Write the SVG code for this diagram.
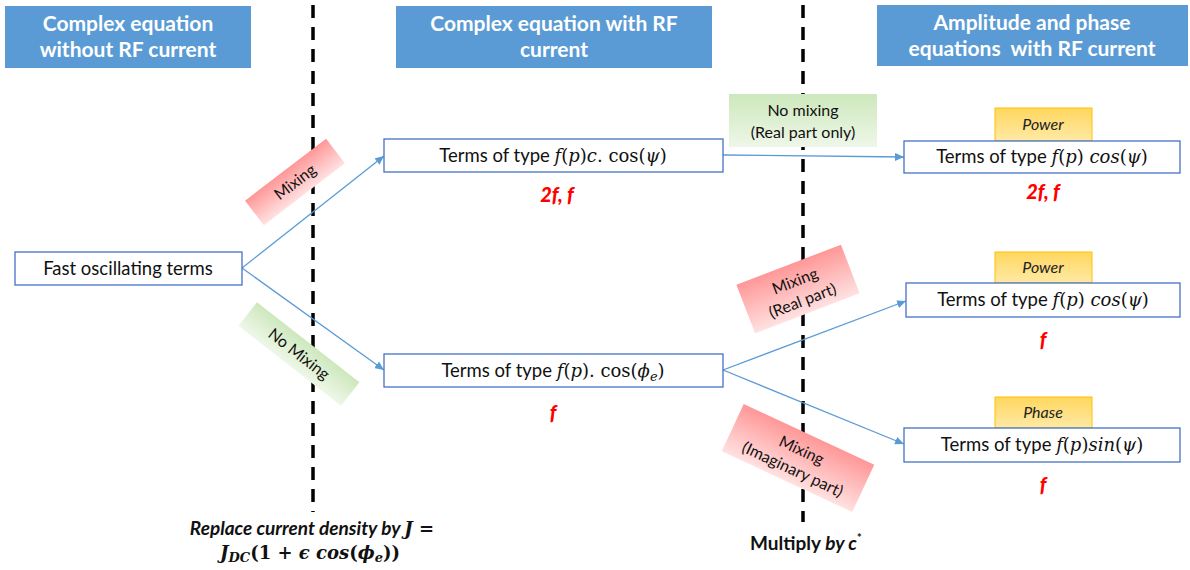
<svg xmlns="http://www.w3.org/2000/svg" width="1190" height="570" viewBox="0 0 1190 570">
<style>
.hdr{fill:#5B9BD5}
.ht{fill:#fff;font-family:Lato,"Liberation Sans",sans-serif;font-weight:bold;font-size:21px;text-anchor:middle}
.box{fill:#fff;stroke:#4472C4;stroke-width:1.3}
.t{font-family:Lato,"Liberation Sans",sans-serif;font-size:18.5px;fill:#111}
.m{font-family:"DejaVu Serif","Liberation Serif",serif;font-size:18px}
.mi{font-style:italic}
.red{font-family:Lato,"Liberation Sans",sans-serif;font-weight:900;font-style:italic;font-size:20px;fill:#FF0000;text-anchor:middle}
.lbl{font-family:Lato,"Liberation Sans",sans-serif;font-size:16px;fill:#111;text-anchor:middle}
.tag{stroke:#FFC000;stroke-width:1;fill:url(#gO)}
.tagt{font-family:Lato,"Liberation Sans",sans-serif;font-style:italic;font-size:16px;fill:#222;text-anchor:middle}
.dash{stroke:#000;stroke-width:3.5;stroke-dasharray:13 9;fill:none}
.conn{stroke:#5B9BD5;stroke-width:1.3;fill:none;marker-end:url(#ah)}
.bt{font-family:Lato,"Liberation Sans",sans-serif;font-weight:bold;font-size:19px;fill:#111;text-anchor:middle}
.bm{font-family:"DejaVu Serif","Liberation Serif",serif;font-weight:bold;font-size:18px;fill:#111;text-anchor:middle}
</style>
<defs>
<marker id="ah" markerUnits="userSpaceOnUse" markerWidth="10" markerHeight="8" refX="9" refY="4" orient="auto">
<path d="M0,0 L9,4 L0,8 z" fill="#5B9BD5"/>
</marker>
<linearGradient id="gR" x1="0" y1="0" x2="0" y2="1">
<stop offset="0" stop-color="#FF9797"/>
<stop offset="1" stop-color="#FFE1E1"/>
</linearGradient>
<linearGradient id="gG" x1="0" y1="0" x2="0" y2="1">
<stop offset="0" stop-color="#CDE8BC"/>
<stop offset="1" stop-color="#EEF7E8"/>
</linearGradient>
<linearGradient id="gO" x1="0" y1="0" x2="0" y2="1">
<stop offset="0" stop-color="#FFD75E"/>
<stop offset="1" stop-color="#FFE9A6"/>
</linearGradient>
</defs>

<g id="dividers">
<line class="dash" x1="313" y1="5" x2="313" y2="512"/>
<line class="dash" x1="803" y1="5" x2="803" y2="522"/>
</g>

<g id="hdr1">
<rect class="hdr" x="5" y="6" width="246" height="62"/>
<text class="ht" x="128" y="31">Complex equation</text>
<text class="ht" x="128" y="57">without RF current</text>
</g>
<g id="hdr2">
<rect class="hdr" x="396" y="6" width="316" height="62"/>
<text class="ht" x="554" y="31">Complex equation with RF</text>
<text class="ht" x="554" y="57">current</text>
</g>
<g id="hdr3">
<rect class="hdr" x="877" y="5" width="311" height="61"/>
<text class="ht" x="1032" y="30">Amplitude and phase</text>
<text class="ht" x="1032" y="56" xml:space="preserve">equations  with RF current</text>
</g>

<g id="connectors">
<line class="conn" x1="242" y1="268" x2="384" y2="156"/>
<line class="conn" x1="242" y1="268" x2="384" y2="370"/>
<line class="conn" x1="723" y1="155" x2="904" y2="157"/>
<line class="conn" x1="723" y1="370" x2="906" y2="301"/>
<line class="conn" x1="723" y1="370" x2="904" y2="444"/>
</g>

<g id="lbl-mixing" transform="translate(295,182) rotate(-37.4)">
<rect x="-51" y="-15.5" width="102" height="31" fill="url(#gR)"/>
<text class="lbl" x="0" y="5.5">Mixing</text>
</g>
<g id="lbl-nomixing" transform="translate(299,354) rotate(38)">
<rect x="-65" y="-15" width="130" height="30" fill="url(#gG)"/>
<text class="lbl" x="0" y="5.5">No Mixing</text>
</g>
<g id="lbl-nomixing-real">
<rect x="729" y="94" width="148" height="53" fill="url(#gG)"/>
<text class="lbl" x="803" y="116">No mixing</text>
<text class="lbl" x="803" y="138">(Real part only)</text>
</g>
<g id="lbl-mixing-real" transform="translate(798,289) rotate(-21)">
<rect x="-56" y="-26" width="112" height="52" fill="url(#gR)"/>
<text class="lbl" x="0" y="-3">Mixing</text>
<text class="lbl" x="0" y="18">(Real part)</text>
</g>
<g id="lbl-mixing-imag" transform="translate(798,458) rotate(25)">
<rect x="-72" y="-26" width="144" height="52" fill="url(#gR)"/>
<text class="lbl" x="0" y="-3">Mixing</text>
<text class="lbl" x="0" y="18">(Imaginary part)</text>
</g>

<g id="fast">
<rect class="box" x="15" y="252" width="227" height="33"/>
<text class="t" x="128" y="275" text-anchor="middle">Fast oscillating terms</text>
</g>

<g id="mid1">
<rect class="box" x="384" y="139" width="339" height="33"/>
<text class="t" x="553" y="162" text-anchor="middle">Terms of type <tspan class="m"><tspan class="mi">f</tspan>(<tspan class="mi">p</tspan>)<tspan class="mi">c</tspan>. cos(<tspan class="mi">ψ</tspan>)</tspan></text>
<text class="red" x="557" y="202">2f, f</text>
</g>
<g id="mid2">
<rect class="box" x="384" y="354" width="339" height="33"/>
<text class="t" x="553" y="377" text-anchor="middle">Terms of type <tspan class="m"><tspan class="mi">f</tspan>(<tspan class="mi">p</tspan>). cos(<tspan class="mi">ϕ</tspan><tspan class="mi" font-size="13" dy="4">e</tspan><tspan dy="-4">)</tspan></tspan></text>
<text class="red" x="553" y="420">f</text>
</g>

<g id="r1">
<rect class="tag" x="995" y="108" width="97" height="33"/>
<text class="tagt" x="1043" y="130">Power</text>
<rect class="box" x="904" y="141" width="276" height="32"/>
<text class="t" x="1042" y="163" text-anchor="middle">Terms of type <tspan class="m"><tspan class="mi">f</tspan>(<tspan class="mi">p</tspan>) <tspan class="mi">cos</tspan>(<tspan class="mi">ψ</tspan>)</tspan></text>
<text class="red" x="1043" y="199">2f, f</text>
</g>
<g id="r2">
<rect class="tag" x="995" y="252" width="97" height="31"/>
<text class="tagt" x="1043" y="273">Power</text>
<rect class="box" x="906" y="283" width="274" height="34"/>
<text class="t" x="1043" y="306" text-anchor="middle">Terms of type <tspan class="m"><tspan class="mi">f</tspan>(<tspan class="mi">p</tspan>) <tspan class="mi">cos</tspan>(<tspan class="mi">ψ</tspan>)</tspan></text>
<text class="red" x="1043" y="347">f</text>
</g>
<g id="r3">
<rect class="tag" x="995" y="397" width="97" height="31"/>
<text class="tagt" x="1043" y="418">Phase</text>
<rect class="box" x="904" y="428" width="276" height="34"/>
<text class="t" x="1042" y="451" text-anchor="middle">Terms of type <tspan class="m"><tspan class="mi">f</tspan>(<tspan class="mi">p</tspan>)<tspan class="mi">sin</tspan>(<tspan class="mi">ψ</tspan>)</tspan></text>
<text class="red" x="1043" y="492">f</text>
</g>

<g id="note-left">
<text class="bt" x="312" y="535"><tspan font-style="italic">Replace current density by </tspan><tspan class="m" font-weight="bold" font-style="italic">J</tspan><tspan class="m" font-weight="bold"> =</tspan></text>
<text class="bm" x="310" y="559"><tspan font-style="italic">J</tspan><tspan font-style="italic" font-size="13" dy="3">DC</tspan><tspan dy="-3">(1 + </tspan><tspan font-style="italic">ϵ cos</tspan>(<tspan font-style="italic">ϕ</tspan><tspan font-style="italic" font-size="13" dy="3">e</tspan><tspan dy="-3">))</tspan></text>
</g>
<g id="note-right">
<text class="bt" x="806" y="550" font-size="20">Multiply <tspan font-style="italic">by c</tspan><tspan font-size="12" dy="-8">*</tspan></text>
</g>
</svg>
